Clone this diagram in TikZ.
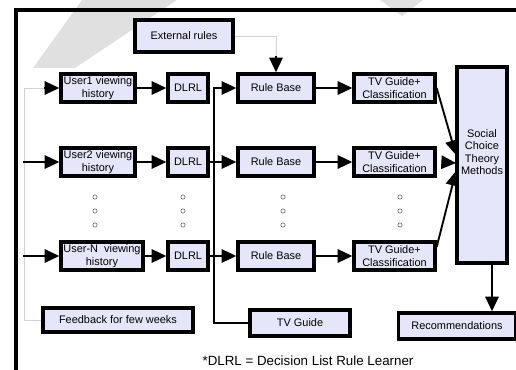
\documentclass[tikz,border=0pt]{standalone}
\usepackage{fontspec}
\setmainfont{Liberation Sans}
\usetikzlibrary{arrows.meta,calc}
\definecolor{boxfill}{RGB}{230,230,250}

\begin{document}
\begin{tikzpicture}[x=0.75pt,y=-0.75pt,
    blk/.style={draw=black,line width=2.5pt,fill=boxfill,inner sep=0pt,align=center,font=\fontsize{8.2}{9.6}\selectfont},
    flow/.style={line width=1.4pt,-{Triangle[length=11pt,width=10pt]}},
    faint/.style={draw=black!18,line width=0.5pt},
    dot/.style={circle,draw=black!55,line width=0.5pt,inner sep=0pt,minimum size=3.2pt}]

    \useasboundingbox (0,0) rectangle (516,370);

    %watermark
    \fill[black!12] (82,0) -- (177,0) -- (75,68) -- (33,68) -- cycle;
    \fill[black!12] (380,0) -- (423,0) -- (402,16) -- cycle;

    %frame
    \draw[line width=3pt] (16,374) -- (16,10) -- (520,10);

    %boxes
    \node[blk,minimum width=73.5pt,minimum height=24pt] (ext) at (184,36) {External rules};

    \node[blk,minimum width=55.5pt,minimum height=21pt] (user1) at (98,88) {User1 viewing\\history};
    \node[blk,minimum width=30pt,minimum height=21pt] (dlrl1) at (188,88) {DLRL};
    \node[blk,minimum width=57pt,minimum height=21pt] (rb1) at (276,88) {Rule Base};
    \node[blk,minimum width=60.75pt,minimum height=21pt] (tv1) at (394.5,88) {TV Guide+\\Classification};

    \node[blk,minimum width=55.5pt,minimum height=21pt] (user2) at (98,162) {User2 viewing\\history};
    \node[blk,minimum width=30pt,minimum height=21pt] (dlrl2) at (188,162) {DLRL};
    \node[blk,minimum width=57pt,minimum height=21pt] (rb2) at (276,162) {Rule Base};
    \node[blk,minimum width=60.75pt,minimum height=21pt] (tv2) at (394.5,162) {TV Guide+\\Classification};

    \node[blk,minimum width=61.5pt,minimum height=21pt] (userN) at (102,256) {User-N\ \ viewing\\history};
    \node[blk,minimum width=30pt,minimum height=21pt] (dlrlN) at (188,256) {DLRL};
    \node[blk,minimum width=57pt,minimum height=21pt] (rbN) at (276,256) {Rule Base};
    \node[blk,minimum width=60.75pt,minimum height=21pt] (tvN) at (394.5,256) {TV Guide+\\Classification};

    \node[blk,minimum width=37.5pt,minimum height=147pt] (soc) at (482,165) {};
    \node[align=center,inner sep=0pt,font=\fontsize{8.2}{9.4}\selectfont] (soctext) at (482,152) {Social\\Choice\\Theory\\Methods};

    \node[blk,minimum width=112.5pt,minimum height=18pt] (fb) at (118,320) {Feedback for few weeks};
    \node[blk,minimum width=75pt,minimum height=19.5pt] (tvg) at (300,323) {TV Guide};
    \node[blk,minimum width=87.75pt,minimum height=19.5pt] (rec) at (457,326) {Recommendations};

    %dots
    \node[dot] (du1) at (95,197) {};
    \node[dot] (du2) at (95,211) {};
    \node[dot] (du3) at (95,225) {};
    \node[dot] (dd1) at (183,197) {};
    \node[dot] (dd2) at (183,211) {};
    \node[dot] (dd3) at (183,225) {};
    \node[dot] (dr1) at (283,197) {};
    \node[dot] (dr2) at (283,211) {};
    \node[dot] (dr3) at (283,225) {};
    \node[dot] (dt1) at (400,197) {};
    \node[dot] (dt2) at (400,211) {};
    \node[dot] (dt3) at (400,225) {};

    %feedback loop
    \coordinate (fbL) at (24,320);
    \coordinate (u1in) at (44,88);
    \draw[faint] (fb.west) -- (fbL) |- (u1in);
    \draw[flow] (u1in) -- (user1.west);

    \coordinate (u2in) at (23,162);
    \coordinate (uNin) at (23,256);
    \draw[flow] (u2in) -- (user2.west);
    \draw[flow] (uNin) -- (userN.west);

    %rows
    \draw[flow] (user1) -- (dlrl1);
    \draw[flow] (user2) -- (dlrl2);
    \draw[flow] (userN) -- (dlrlN);
    \draw[flow] (dlrl2) -- (rb2);
    \draw[flow] (dlrlN) -- (rbN);
    \draw[flow] (rb1) -- (tv1);
    \draw[flow] (rb2) -- (tv2);
    \draw[flow] (rbN) -- (tvN);

    %tv guide bus
    \coordinate (busTop) at (214,88);
    \draw[flow] (tvg.west) -| (busTop) -- (rb1.west);

    %external rules
    \coordinate (extIn) at (276,56);
    \draw[faint] (ext.east) -| (extIn);
    \draw[flow] (extIn) -- (rb1.north);

    %to social choice
    \coordinate (s1) at (456,155);
    \coordinate (s2) at (456,163);
    \coordinate (s3) at (456,171);
    \draw[flow] (tv1.east) -- (s1);
    \draw[flow,shorten <=4.5pt] (tv2.east) -- (s2);
    \draw[flow] ($(tvN.east)+(0,-9)$) -- (s3);

    \coordinate (socOut) at (492,263);
    \draw[flow] (socOut) -- (socOut |- rec.north);

    \node[inner sep=0pt,font=\fontsize{10}{12}\selectfont] (note) at (308,361) {*DLRL = Decision List Rule Learner};

\end{tikzpicture}
\end{document}
